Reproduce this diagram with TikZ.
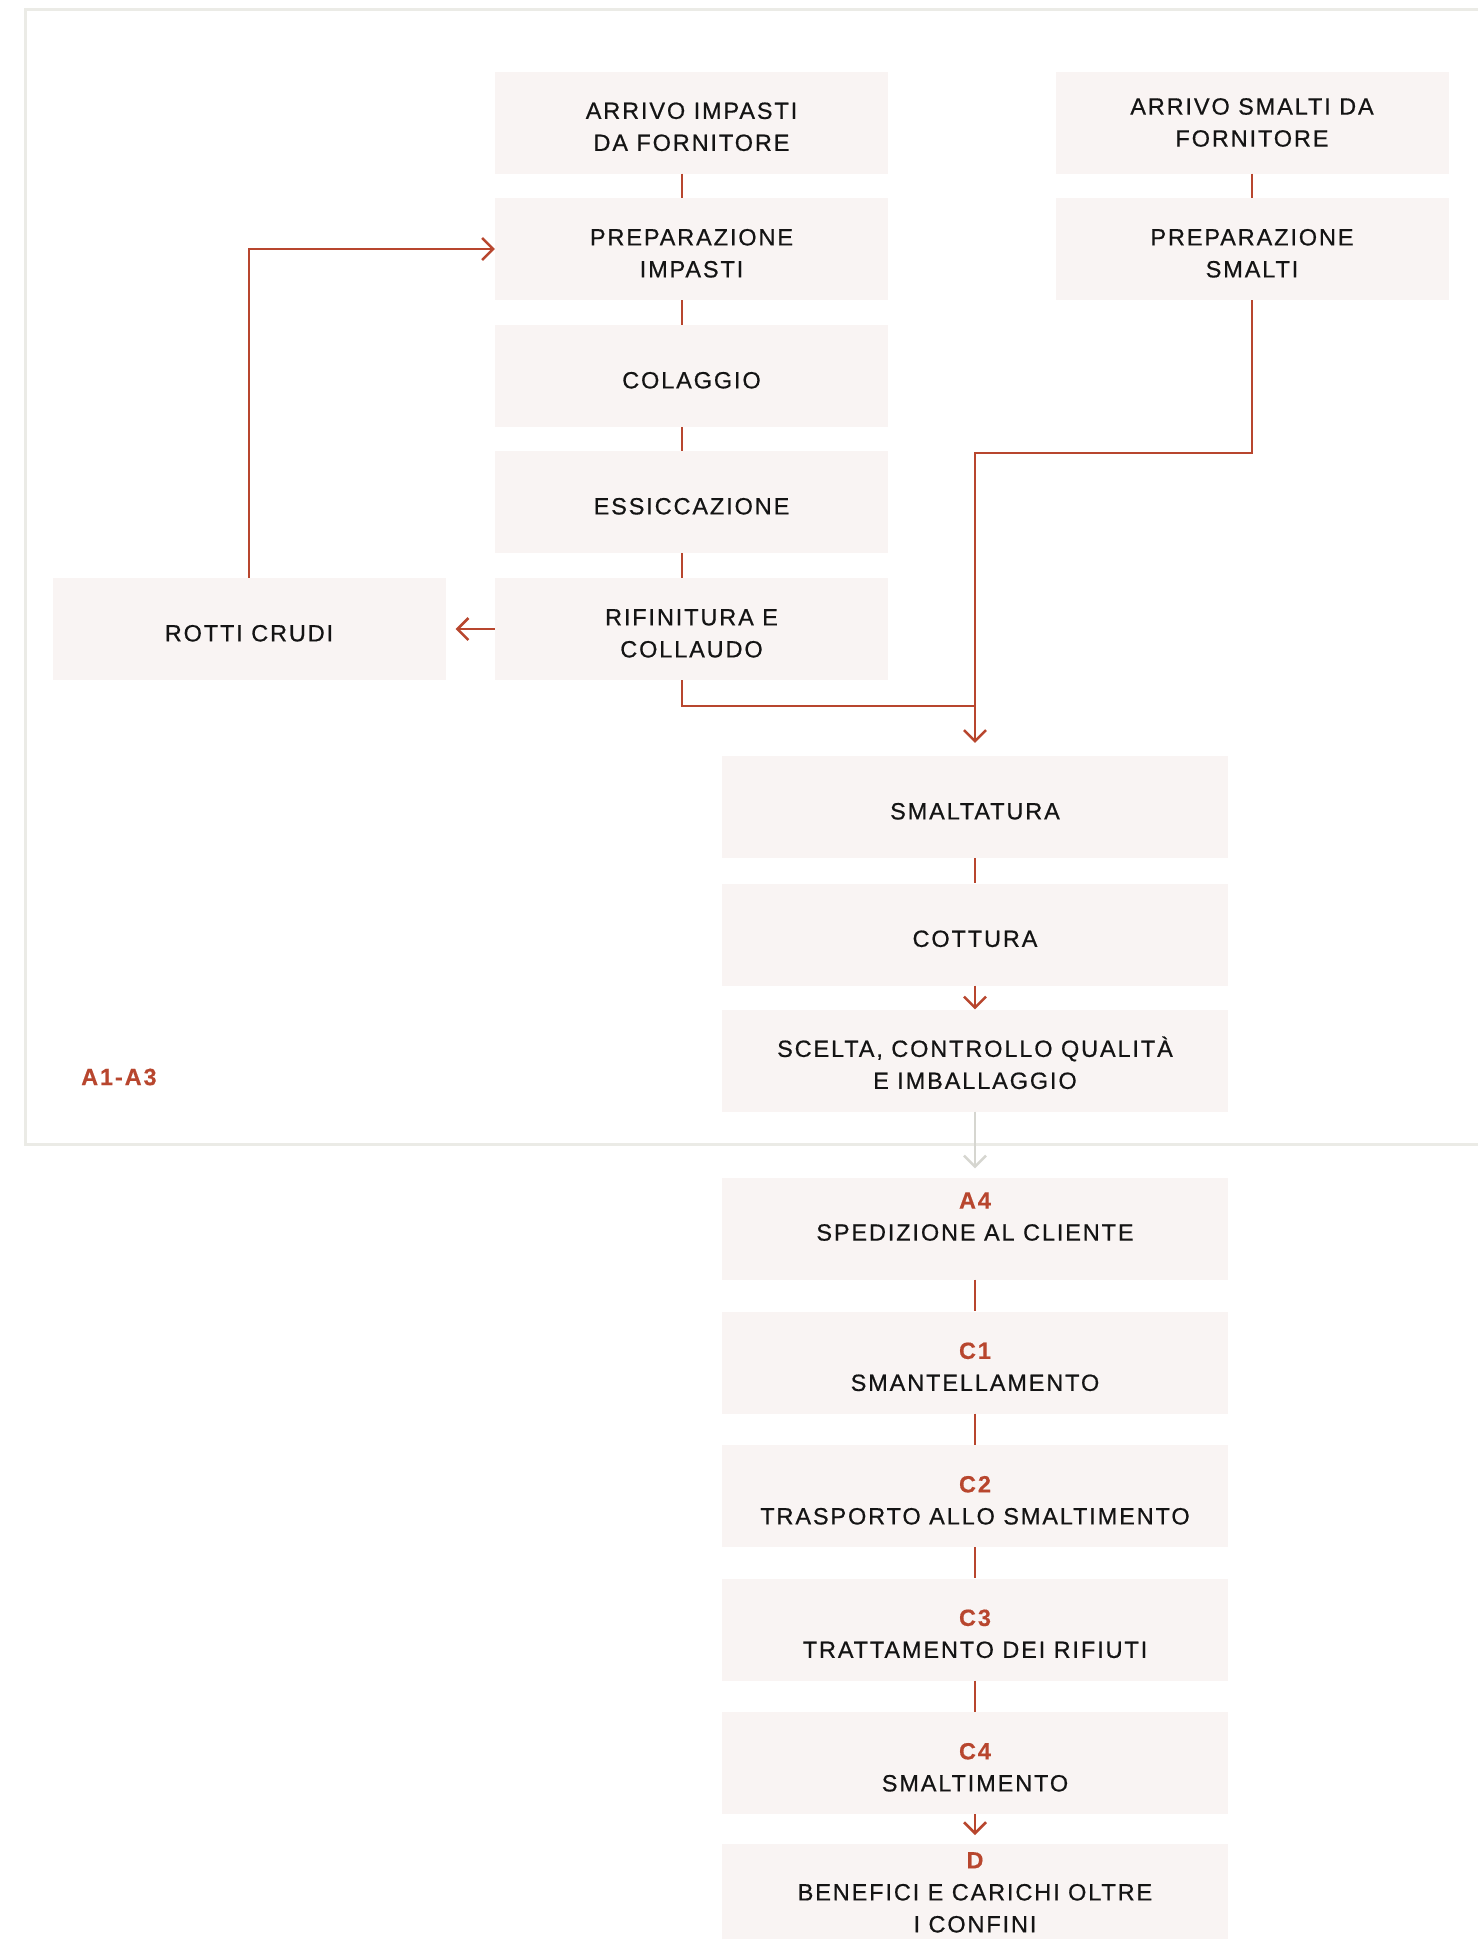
\documentclass[tikz,border=0pt]{standalone}
\usepackage{fontspec}
\setmainfont{Liberation Sans}[LetterSpace=8,FakeBold=0.6,BoldFeatures={FakeBold=0.3}]
\usetikzlibrary{arrows.meta}
\definecolor{rust}{RGB}{184,70,46}
\definecolor{boxfill}{RGB}{249,244,243}
\definecolor{framegray}{RGB}{235,235,230}
\definecolor{arrowgray}{RGB}{214,214,208}
\definecolor{ink}{RGB}{20,20,20}
\newcommand\topstrut{\rule{0pt}{25pt}}
\newcommand\steplab[1]{{\color{rust}\bfseries #1}}
\begin{document}
\begin{tikzpicture}[x=1pt,y=-1pt,
  box/.style={fill=boxfill, inner sep=0pt, minimum height=102pt, align=center, text=ink, font=\fontsize{23.5}{32}\selectfont},
  narrow/.style={box, minimum width=393pt},
  wide/.style={box, minimum width=506pt},
  conn/.style={draw=rust, line width=2.5pt},
  grayconn/.style={draw=arrowgray, line width=2.5pt},
  tip/.style={-{Straight Barb[length=11pt,width=22pt]}}
]
\fill[white] (0,0) rectangle (1478,1939);
\useasboundingbox (0,0) rectangle (1478,1939);
% frame
\draw[framegray, line width=3pt] (1478,9.5) -- (25.5,9.5) -- (25.5,1144) -- (1478,1144);
% left column
\node[narrow] (a1) at (691.5,122.5) {\topstrut ARRIVO IMPASTI\\DA FORNITORE};
\node[narrow] (a2) at (691.5,249) {\topstrut PREPARAZIONE\\IMPASTI};
\node[narrow] (a3) at (691.5,376) {\topstrut COLAGGIO};
\node[narrow] (a4n) at (691.5,502) {\topstrut ESSICCAZIONE};
\node[narrow] (a5) at (691.5,629) {\topstrut RIFINITURA E\\COLLAUDO};
% right column
\node[narrow] (b1) at (1252,122.5) {ARRIVO SMALTI DA\\FORNITORE};
\node[narrow] (b2) at (1252,249) {\topstrut PREPARAZIONE\\SMALTI};
% scrap
\node[narrow] (rotti) at (249,629) {\topstrut ROTTI CRUDI};
% lower column
\node[wide] (s1) at (975,807) {\topstrut SMALTATURA};
\node[wide] (s2) at (975,934.5) {\topstrut COTTURA};
\node[wide] (s3) at (975,1060.5) {\topstrut SCELTA, CONTROLLO QUALITÀ\\E IMBALLAGGIO};
\node[wide] (ta4) at (975,1228.5) {\steplab{A4}\\SPEDIZIONE AL CLIENTE\\[-8pt]~};
\node[wide] (c1) at (975,1362.5) {\topstrut\steplab{C1}\\SMANTELLAMENTO};
\node[wide] (c2) at (975,1496) {\topstrut\steplab{C2}\\TRASPORTO ALLO SMALTIMENTO};
\node[wide] (c3) at (975,1629.5) {\topstrut\steplab{C3}\\TRATTAMENTO DEI RIFIUTI};
\node[wide] (c4) at (975,1763) {\topstrut\steplab{C4}\\SMALTIMENTO};
\node[wide, anchor=north, minimum height=0pt, inner ysep=8pt] (d) at (975,1844) {\steplab{D}\\BENEFICI E CARICHI OLTRE\\I CONFINI};
% phase label
\node[anchor=west, text=rust, inner sep=0pt, font=\fontsize{23.5}{32}\selectfont\bfseries] (phase) at (81,1077) {A1-A3};
% connectors
\draw[conn] ([xshift=-9.5pt]a1.south) -- ([xshift=-9.5pt]a2.north);
\draw[conn] ([xshift=-9.5pt]a2.south) -- ([xshift=-9.5pt]a3.north);
\draw[conn] ([xshift=-9.5pt]a3.south) -- ([xshift=-9.5pt]a4n.north);
\draw[conn] ([xshift=-9.5pt]a4n.south) -- ([xshift=-9.5pt]a5.north);
\draw[conn] (b1.south) -- (b2.north);
\draw[conn,tip] (rotti.north) |- (a2.west);
\draw[conn,tip] (a5.west) -- ([xshift=10pt]rotti.east);
\coordinate (jl) at (975,706);
\coordinate (jr) at (975,453);
\draw[conn] ([xshift=-9.5pt]a5.south) |- (jl);
\draw[conn,tip] (b2.south) |- (jr) -- ([yshift=13pt]s1.north);
\draw[conn] (s1.south) -- (s2.north);
\draw[conn,tip] (s2.south) -- (s3.north);
\draw[grayconn,tip] (s3.south) -- ([yshift=9pt]ta4.north);
\draw[conn] (ta4.south) -- (c1.north);
\draw[conn] (c1.south) -- (c2.north);
\draw[conn] (c2.south) -- (c3.north);
\draw[conn] (c3.south) -- (c4.north);
\draw[conn,tip] (c4.south) -- ([yshift=9pt]d.north);
\end{tikzpicture}
\end{document}
